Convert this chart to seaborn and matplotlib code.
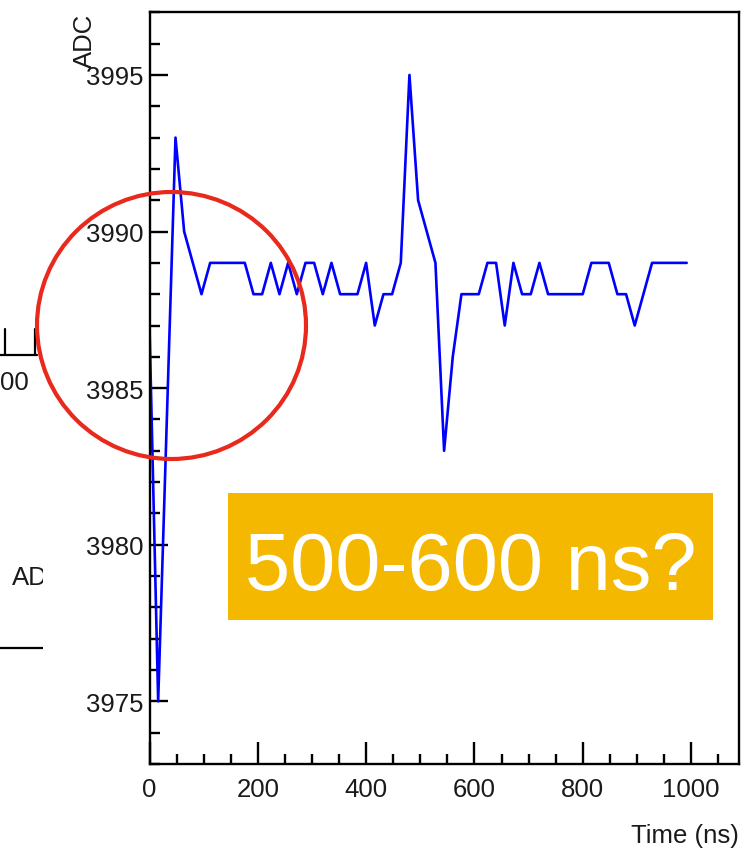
import matplotlib
matplotlib.use("Agg")
import matplotlib.pyplot as plt
from matplotlib.patches import Ellipse, Rectangle
from matplotlib.ticker import MultipleLocator
import numpy as np
import pandas as pd
import seaborn as sns

# Digitised waveform: one ADC sample every 16 ns
time_ns = [0, 16, 32, 48, 64, 80, 96, 112, 128, 144, 160, 176, 192, 208, 224,
           240, 256, 272, 288, 304, 320, 336, 352, 368, 384, 400, 416, 432,
           448, 464, 480, 496, 512, 528, 544, 560, 576, 592, 608, 624, 640,
           656, 672, 688, 704, 720, 736, 752, 768, 784, 800, 816, 832, 848,
           864, 880, 896, 912, 928, 944, 960, 976, 992]
adc = [3987, 3975, 3984, 3993, 3990, 3989, 3988, 3989, 3989, 3989, 3989, 3989,
       3988, 3988, 3989, 3988, 3989, 3988, 3989, 3989, 3988, 3989, 3988, 3988,
       3988, 3989, 3987, 3988, 3988, 3989, 3995, 3991, 3990, 3989, 3983, 3986,
       3988, 3988, 3988, 3989, 3989, 3987, 3989, 3988, 3988, 3989, 3988, 3988,
       3988, 3988, 3988, 3989, 3989, 3989, 3988, 3988, 3987, 3988, 3989, 3989,
       3989, 3989, 3989]

x_major_ticks = [0, 200, 400, 600, 800, 1000]
y_major_ticks = [3975, 3980, 3985, 3990, 3995]
x_label = "Time (ns)"
y_label = "ADC"
callout = "500-600 ns?"

W, H = 745, 853
sns.set_theme(style="white")
plt.rcParams["font.family"] = ["Liberation Sans", "DejaVu Sans"]

fig = plt.figure(figsize=(W / 100, H / 100), dpi=100)
fig.patch.set_facecolor("white")

def px_rect(x0, y0, x1, y1):
    return [x0 / W, 1 - y1 / H, (x1 - x0) / W, (y1 - y0) / H]

# Main waveform frame
ax = fig.add_axes(px_rect(149.5, 13.3, 738.7, 765))
df = pd.DataFrame({"t": time_ns, "adc": adc})
sns.lineplot(data=df, x="t", y="adc", ax=ax, color="#0000ff", lw=1.9,
             estimator=None, sort=False)
ax.set_xlim(0, 1088)
ax.set_ylim(3973, 3997)
ax.set_xticks(x_major_ticks)
ax.set_yticks(y_major_ticks)
ax.xaxis.set_minor_locator(MultipleLocator(50))
ax.yaxis.set_minor_locator(MultipleLocator(1))
for s in ax.spines.values():
    s.set_visible(True)
    s.set_linewidth(1.7)
    s.set_color("black")
ax.tick_params(axis="both", which="both", direction="in", width=1.7,
               color="black", labelsize=18.5, labelcolor="#1a1a1a",
               bottom=True, left=True, top=False, right=False)
ax.tick_params(axis="x", which="major", length=15.5, pad=9.5)
ax.tick_params(axis="x", which="minor", length=7.2)
ax.tick_params(axis="y", which="major", length=13, pad=4)
ax.tick_params(axis="y", which="minor", length=7.2)
ax.set_xlabel(x_label, fontsize=18.5, color="#1a1a1a")
ax.xaxis.label.set(ha="right", va="baseline")
ax.xaxis.set_label_coords(1.0, -0.1038)
ax.set_ylabel(y_label, fontsize=18.5, color="#1a1a1a")
ax.yaxis.label.set(rotation_mode="anchor", ha="right", va="center")
ax.yaxis.set_label_coords(-0.110, 0.999)
ax.grid(False)

# Fragment of the neighbouring panel at the left edge
frag = fig.add_axes(px_rect(0, 300, 43, 700))
frag.set_xlim(0, 43)
frag.set_ylim(700, 300)
frag.axis("off")
frag.plot([0, 37], [355.5, 355.5], color="black", lw=1.6)
frag.plot([5, 5], [330, 355.5], color="black", lw=1.6)
frag.plot([35, 35], [330, 355.5], color="black", lw=1.6)
frag.text(29, 383, "00", ha="right", va="center", fontsize=18.5,
          color="#1a1a1a", clip_on=True)
frag.text(12, 585, "ADC", ha="left", va="baseline", fontsize=18.5,
          color="#1a1a1a", clip_on=True)
frag.plot([0, 43], [649, 649], color="black", lw=1.6)

# Annotation layer
over = fig.add_axes([0, 0, 1, 1], zorder=10)
over.set_xlim(0, W)
over.set_ylim(H, 0)
over.axis("off")
over.patch.set_alpha(0)
over.add_patch(Ellipse((171.5, 326.5), 269, 267, fill=False,
                       edgecolor="#e8291c", lw=3.0))
over.add_patch(Rectangle((228, 494), 485, 127, facecolor="#f5b800",
                         edgecolor="none"))
over.text(471, 590, callout, ha="center", va="baseline", fontsize=58.5,
          color="white")

fig.savefig("out.png", dpi=100)
